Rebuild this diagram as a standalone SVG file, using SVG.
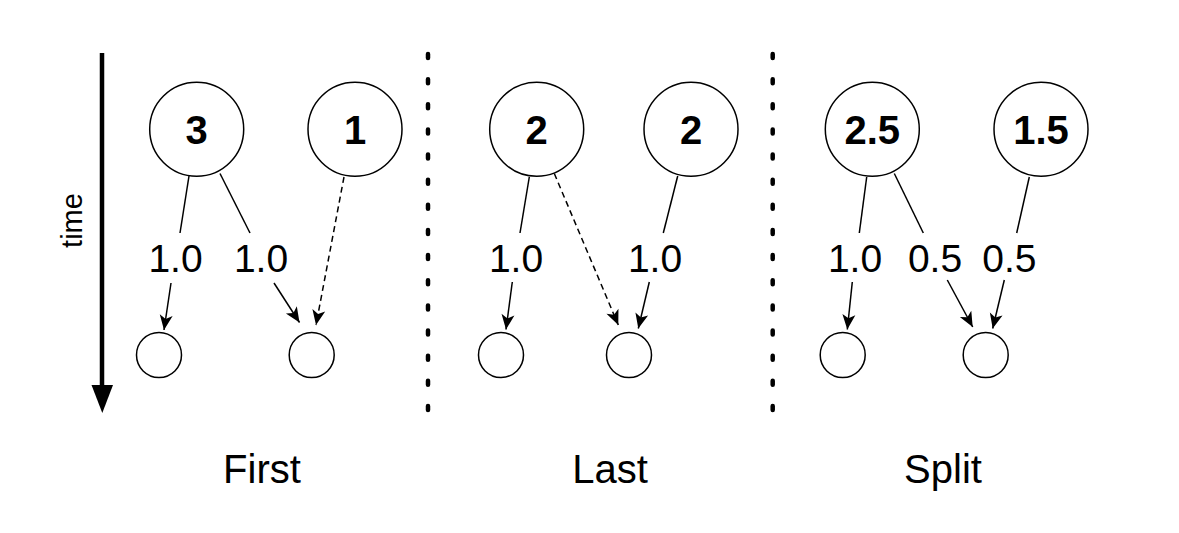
<svg xmlns="http://www.w3.org/2000/svg" width="1179" height="533" viewBox="0 0 1179 533">
  <style>
    .node { fill: #fff; stroke: #000; stroke-width: 1.5; }
    .val { font-family: "Liberation Sans", Arial, sans-serif; font-size: 40px; font-weight: bold; text-anchor: middle; fill: #000; }
    .lbl { font-family: "Liberation Sans", Arial, sans-serif; font-size: 39px; text-anchor: middle; fill: #000; }
    .cap { font-family: "Liberation Sans", Arial, sans-serif; font-size: 40px; text-anchor: middle; fill: #000; }
    .edge { fill: none; stroke: #000; stroke-width: 1.5; }
    .dash { stroke-dasharray: 6 4; }
    .sep { fill: none; stroke: #000; stroke-width: 4.5; stroke-linecap: round; stroke-dasharray: 4 21.14; }
  </style>
  <defs>
    <marker id="arrow" markerUnits="userSpaceOnUse" markerWidth="15" markerHeight="13" refX="15" refY="6.5" orient="auto" overflow="visible">
      <path d="M15,6.5 L0,0 L3.8,6.5 L0,13 Z" fill="#000"/>
    </marker>
  </defs>

  <rect width="1179" height="533" fill="#fff"/>

  <!-- time axis -->
  <g id="time-axis">
    <line x1="102" y1="53" x2="102" y2="387" stroke="#000" stroke-width="4.5"/>
    <polygon points="91.5,385 113,385 102.3,413" fill="#000"/>
    <text class="lbl" style="font-size:29px" transform="translate(81.5,220.5) rotate(-90)" x="0" y="0">time</text>
  </g>

  <!-- panel separators -->
  <g id="separators">
    <line class="sep" x1="428" y1="54" x2="428" y2="412"/>
    <line class="sep" x1="772.7" y1="54" x2="772.7" y2="412"/>
  </g>

  <!-- connectors -->
  <g id="connectors">
    <!-- First -->
    <line class="edge" x1="189" y1="176" x2="180" y2="233"/>
    <line class="edge" x1="171" y1="283" x2="164" y2="330" marker-end="url(#arrow)"/>
    <line class="edge" x1="220" y1="173.5" x2="250" y2="233"/>
    <line class="edge" x1="274" y1="283" x2="299.5" y2="322.5" marker-end="url(#arrow)"/>
    <line class="edge dash" x1="344" y1="177" x2="316" y2="325" marker-end="url(#arrow)"/>
    <!-- Last -->
    <line class="edge" x1="529.3" y1="177" x2="520" y2="233"/>
    <line class="edge" x1="512.3" y1="282" x2="506" y2="329.5" marker-end="url(#arrow)"/>
    <line class="edge dash" x1="554.3" y1="173.5" x2="618.3" y2="325" marker-end="url(#arrow)"/>
    <line class="edge" x1="677.7" y1="176" x2="663.3" y2="233"/>
    <line class="edge" x1="649.3" y1="282" x2="638.3" y2="328.5" marker-end="url(#arrow)"/>
    <!-- Split -->
    <line class="edge" x1="866.7" y1="177" x2="859.3" y2="233"/>
    <line class="edge" x1="852.3" y1="282" x2="847.3" y2="329.5" marker-end="url(#arrow)"/>
    <line class="edge" x1="894.3" y1="173.5" x2="923.3" y2="233"/>
    <line class="edge" x1="947.3" y1="280" x2="972.7" y2="327" marker-end="url(#arrow)"/>
    <line class="edge" x1="1029.3" y1="177" x2="1016.7" y2="233"/>
    <line class="edge" x1="1004.3" y1="280" x2="992.7" y2="328.5" marker-end="url(#arrow)"/>

    <!-- edge weights -->
    <text class="lbl" x="175.5" y="272">1.0</text>
    <text class="lbl" x="261" y="272">1.0</text>
    <text class="lbl" x="516" y="272">1.0</text>
    <text class="lbl" x="655" y="272">1.0</text>
    <text class="lbl" x="855" y="272">1.0</text>
    <text class="lbl" x="935" y="272">0.5</text>
    <text class="lbl" x="1009.3" y="272">0.5</text>
  </g>

  <!-- First -->
  <g id="first-a"><circle class="node" cx="196.7" cy="129.3" r="47"/><text class="val" x="196.7" y="144">3</text></g>
  <g id="first-b"><circle class="node" cx="355" cy="129.3" r="47"/><text class="val" x="355" y="144">1</text></g>
  <g id="first-c"><circle class="node" cx="159" cy="355" r="22.5"/></g>
  <g id="first-d"><circle class="node" cx="311.7" cy="355" r="22.5"/></g>

  <!-- Last -->
  <g id="last-a"><circle class="node" cx="536.7" cy="129.3" r="47"/><text class="val" x="536.7" y="144">2</text></g>
  <g id="last-b"><circle class="node" cx="691" cy="129.3" r="47"/><text class="val" x="691" y="144">2</text></g>
  <g id="last-c"><circle class="node" cx="501" cy="355" r="22.5"/></g>
  <g id="last-d"><circle class="node" cx="629" cy="355" r="22.5"/></g>

  <!-- Split -->
  <g id="split-a"><circle class="node" cx="872.3" cy="129.3" r="47"/><text class="val" x="872.3" y="144">2.5</text></g>
  <g id="split-b"><circle class="node" cx="1041" cy="129.3" r="47"/><text class="val" x="1041" y="144">1.5</text></g>
  <g id="split-c"><circle class="node" cx="842.7" cy="355" r="22.5"/></g>
  <g id="split-d"><circle class="node" cx="985.7" cy="355" r="22.5"/></g>

  <!-- panel captions -->
  <g id="captions">
    <text class="cap" x="262" y="482.5">First</text>
    <text class="cap" x="610" y="482.5">Last</text>
    <text class="cap" x="943" y="482.5">Split</text>
  </g>
</svg>
